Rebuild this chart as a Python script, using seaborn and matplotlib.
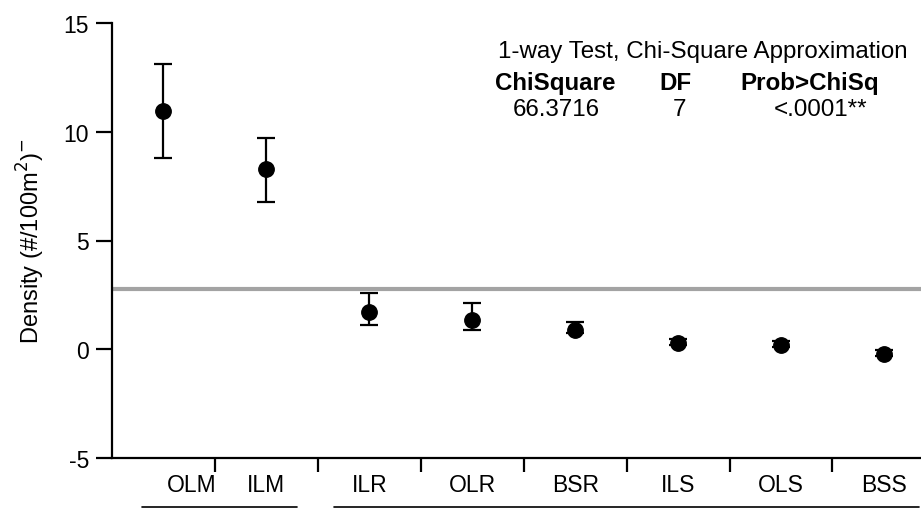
import matplotlib
matplotlib.use("Agg")
import matplotlib.pyplot as plt
import matplotlib.transforms as mtransforms
import seaborn as sns
import numpy as np
import pandas as pd

# --- data ---
sites = ["OLM", "ILM", "ILR", "OLR", "BSR", "ILS", "OLS", "BSS"]
density_mean = [10.97, 8.30, 1.72, 1.36, 0.88, 0.28, 0.18, -0.23]
err_upper = [13.13, 9.72, 2.58, 2.12, 1.24, 0.46, 0.37, -0.05]
err_lower = [8.80, 6.77, 1.10, 0.88, 0.75, 0.20, 0.10, -0.30]
grand_mean = 2.75

test_title = "1-way Test, Chi-Square Approximation"
test_headers = ["ChiSquare", "DF", "Prob>ChiSq"]
test_values = ["66.3716", "7", "<.0001**"]

sns.set_theme(style="ticks")
plt.rcParams["font.family"] = ["Liberation Sans", "DejaVu Sans"]
plt.rcParams["axes.unicode_minus"] = False
plt.rcParams["text.color"] = "black"
plt.rcParams["xtick.color"] = "black"
plt.rcParams["ytick.color"] = "black"
plt.rcParams["axes.labelcolor"] = "black"

df = pd.DataFrame({"site": sites, "mean": density_mean,
                   "hi": err_upper, "lo": err_lower})

fig = plt.figure(figsize=(9.21, 5.10), dpi=100)
ax = fig.add_axes([112 / 921, 51 / 510, 1 - 112 / 921, 435 / 510])

xpos = np.arange(len(sites))
ax.axhline(grand_mean, color="#a3a3a3", lw=3, zorder=1)
ax.errorbar(xpos, df["mean"], yerr=[df["mean"] - df["lo"], df["hi"] - df["mean"]],
            fmt="none", ecolor="black", elinewidth=1.6, capsize=6.5,
            capthick=1.6, zorder=2)
sns.scatterplot(data=df, x="site", y="mean", ax=ax, color="black", s=125,
                edgecolor="black", zorder=3, legend=False)

ax.set_ylim(-5, 15)
ax.set_xlim(-0.5, 7.36)
ax.set_yticks([-5, 0, 5, 10, 15])
ax.set_ylabel("Density (#/100m$^2$)$^{-}$", fontsize=17, labelpad=12)
ax.set_xlabel("")

ax.set_xticks(xpos)
ax.set_xticklabels(sites, fontsize=16.5)
ax.tick_params(axis="x", which="major", length=0, pad=11)
ax.set_xticks(xpos[:-1] + 0.5, minor=True)
ax.tick_params(axis="x", which="minor", length=10, width=1.6, color="black")
ax.tick_params(axis="y", length=11.5, width=1.6, labelsize=16.5, pad=5)
# first label sits right of its point in the original
lab0 = ax.get_xticklabels()[0]
lab0.set_transform(lab0.get_transform() + mtransforms.ScaledTranslation(0.28, 0, fig.dpi_scale_trans))

for side in ["top", "right"]:
    ax.spines[side].set_visible(False)
for side in ["left", "bottom"]:
    ax.spines[side].set_linewidth(1.6)
    ax.spines[side].set_color("black")

# group lines under the labels
trans = mtransforms.blended_transform_factory(ax.transData, ax.transAxes)
ax.plot([-0.21, 1.30], [-0.112, -0.112], color="black", lw=1.2, transform=trans, clip_on=False)
ax.plot([1.66, 7.34], [-0.112, -0.112], color="black", lw=1.2, transform=trans, clip_on=False)

# test summary
ax.text(0.983, 0.936, test_title, transform=ax.transAxes, ha="right", va="center", fontsize=17.4)
hx = [0.548, 0.697, 0.863]
for x, h in zip(hx, test_headers):
    ax.text(x, 0.864, h, transform=ax.transAxes, ha="center", va="center",
            fontsize=17.4, fontweight="bold")
vx = [0.549, 0.701, 0.876]
for x, v in zip(vx, test_values):
    ax.text(x, 0.802, v, transform=ax.transAxes, ha="center", va="center", fontsize=17.4)

fig.savefig("out.png", dpi=100)
